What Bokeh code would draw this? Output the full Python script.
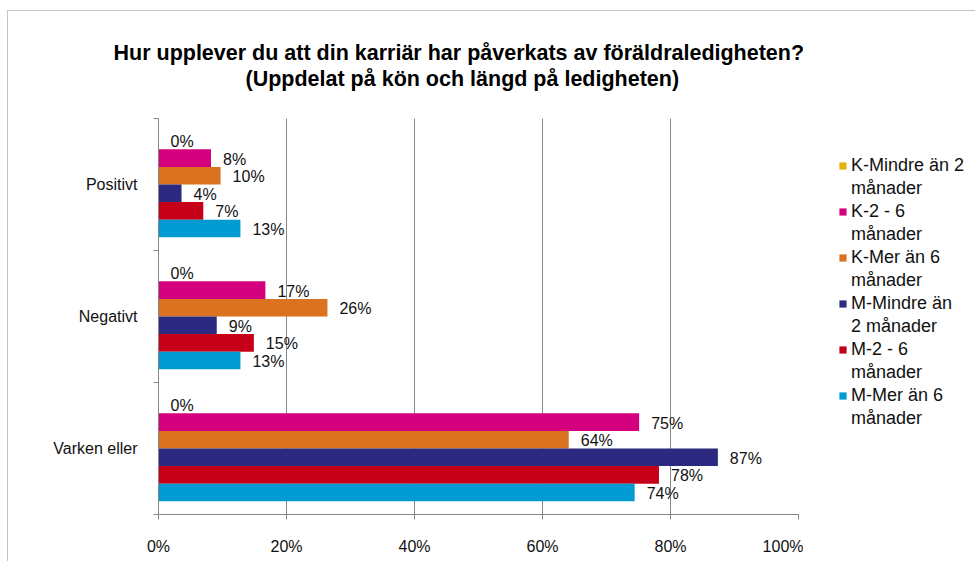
from bokeh.plotting import figure
from bokeh.layouts import row
from bokeh.models import (Range1d, FixedTicker, ColumnDataSource, Legend, LegendItem, Title)
from bokeh.core.properties import value
from bokeh.embed import file_html
from bokeh.resources import INLINE

# ---------------- data ----------------
categories = ["Positivt", "Negativt", "Varken eller"]
legend_line1 = ["K-Mindre än 2", "K-2 - 6", "K-Mer än 6", "M-Mindre än", "M-2 - 6", "M-Mer än 6"]
legend_line2 = ["månader", "månader", "månader", "2 månader", "månader", "månader"]
k_mindre_2 = [0.0, 0.0, 0.0]
k_2_6 = [8.2, 16.7, 75.1]
k_mer_6 = [9.7, 26.4, 64.1]
m_mindre_2 = [3.6, 9.1, 87.4]
m_2_6 = [7.0, 14.9, 78.2]
m_mer_6 = [12.8, 12.8, 74.4]
series_values = [k_mindre_2, k_2_6, k_mer_6, m_mindre_2, m_2_6, m_mer_6]
colors = ["#E8B00C", "#D4007D", "#DA7220", "#2B2A80", "#C60019", "#009BD3"]
x_ticks = [0, 20, 40, 60, 80, 100]
x_tick_labels = ["0%", "20%", "40%", "60%", "80%", "100%"]
title_lines = ["Hur upplever du att din karriär har påverkats av föräldraledigheten?",
               "(Uppdelat på kön och längd på ledigheten)"]

FONT = "Liberation Sans"
GRID = "#868686"
TXT = "#111111"

p = figure(width=795, height=550, output_backend="svg", toolbar_location=None,
           x_range=Range1d(0, 100), y_range=Range1d(0, 3),
           min_border_left=150, min_border_right=5, min_border_top=107, min_border_bottom=47)
p.outline_line_color = None
p.background_fill_color = "white"
p.border_fill_color = "white"

ncat = len(categories)
nser = len(series_values)
h = 1.0 / (nser + 1.5)
centers = [ncat - 0.5 - i for i in range(ncat)]

sources = []
for j, vals in enumerate(series_values):
    ys = [c + (2.5 - j) * h for c in centers]
    src = ColumnDataSource(dict(y=ys, right=vals,
                                label=[f"{round(v)}%" for v in vals]))
    sources.append(src)
    p.hbar(y="y", left=0, right="right", height=h, source=src,
           fill_color=colors[j], line_color=None)
    p.text(x="right", y="y", text="label", source=src, x_offset=12, y_offset=1,
           text_baseline="middle", text_align="left", text_color=TXT,
           text_font=value(FONT), text_font_size="16px")

# axes
xa = p.xaxis[0]
xa.ticker = FixedTicker(ticks=x_ticks, minor_ticks=[])
xa.major_label_overrides = {t: l for t, l in zip(x_ticks, x_tick_labels)}
xa.axis_line_color = GRID
xa.major_tick_line_color = GRID
xa.major_tick_out = 5
xa.major_tick_in = 0
xa.minor_tick_line_color = None
xa.major_label_standoff = 18
xa.major_label_text_font = FONT
xa.major_label_text_font_size = "16px"
xa.major_label_text_color = TXT

ya = p.yaxis[0]
ya.ticker = FixedTicker(ticks=centers, minor_ticks=[0, 1, 2, 3])
ya.major_label_overrides = {c: n for c, n in zip(centers, categories)}
ya.axis_line_color = GRID
ya.major_tick_line_color = None
ya.major_tick_out = 0
ya.minor_tick_line_color = GRID
ya.minor_tick_out = 5
ya.minor_tick_in = 0
ya.major_label_standoff = 16
ya.major_label_text_font = FONT
ya.major_label_text_font_size = "16px"
ya.major_label_text_color = TXT

p.xgrid.ticker = FixedTicker(ticks=x_ticks)
p.xgrid.grid_line_color = GRID
p.ygrid.grid_line_color = None

# title: spacer, then second line, then first line (stacked upward)
p.add_layout(Title(text=" ", text_font_size="1px", standoff=24), "above")
p.add_layout(Title(text=title_lines[1], align="left", offset=87, standoff=0,
                   vertical_align="middle", text_font=FONT, text_font_style="bold",
                   text_font_size="21.5px", text_color="#000000"), "above")
p.add_layout(Title(text=title_lines[0], align="left", offset=-45, standoff=0,
                   vertical_align="middle", text_font=FONT, text_font_style="bold",
                   text_font_size="21.5px", text_color="#000000"), "above")

# legend panel: a second plot (its frame is aligned with the main frame);
# its ranges keep the series' own bars out of view so only the legend shows
q = figure(width=172, height=550, output_backend="svg", toolbar_location=None,
           x_range=Range1d(-2, -1), y_range=Range1d(0, 3),
           x_axis_location=None, y_axis_location=None,
           min_border_left=0, min_border_right=0, min_border_top=107, min_border_bottom=47)
q.outline_line_color = None
q.grid.visible = False
q.background_fill_color = "white"
q.border_fill_color = "white"

items = []
for j in range(nser):
    r = q.hbar(y="y", left=0, right="right", height=h, source=sources[j],
               fill_color=colors[j], line_color=None)
    items.append(LegendItem(label=legend_line1[j], renderers=[r]))
    dummy = q.scatter(x=[], y=[], fill_alpha=0, line_alpha=0)
    items.append(LegendItem(label=legend_line2[j], renderers=[dummy]))
leg = Legend(items=items, location=(35, 85), padding=0, margin=0,
             border_line_color=None, background_fill_alpha=0,
             glyph_width=9, glyph_height=9, label_standoff=4, spacing=2, label_height=20,
             label_text_font=FONT, label_text_font_size="18px", label_text_color=TXT)
q.add_layout(leg)

layout = row(p, q, spacing=0)
layout.styles = {"margin-left": "7px", "margin-top": "10px",
                 "border-left": "1px solid #c4c4c4", "border-top": "1px solid #c4c4c4"}

open("out.html", "w").write(file_html(layout, INLINE))
